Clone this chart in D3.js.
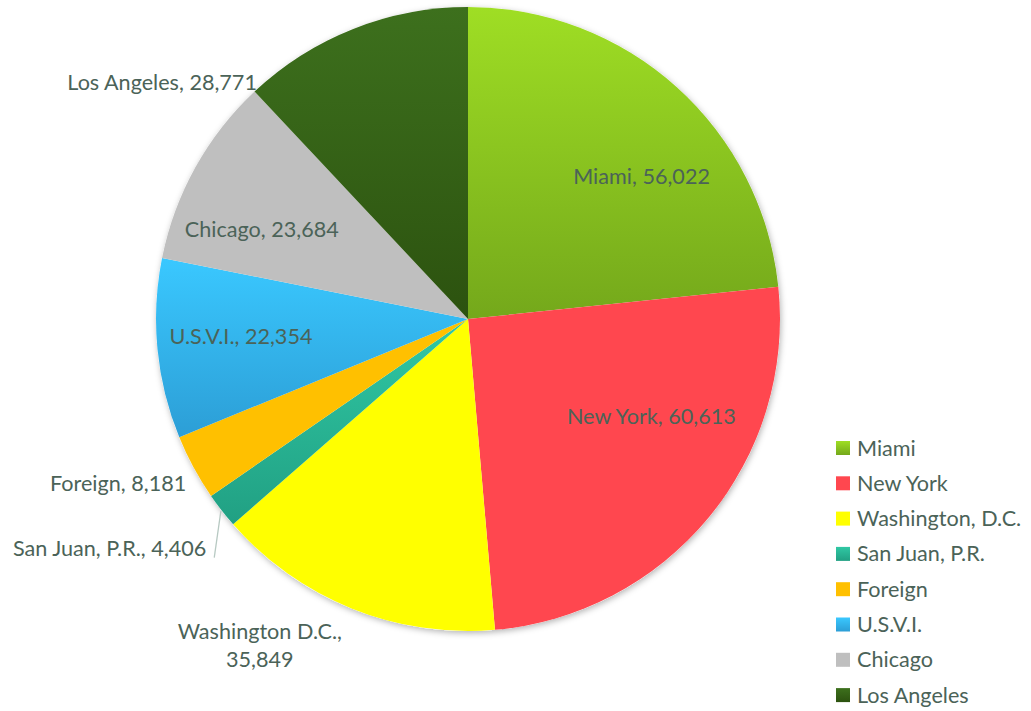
<!DOCTYPE html>
<html><head><meta charset="utf-8">
<script src="https://cdn.jsdelivr.net/npm/d3@7"></script>
<style>
html,body{margin:0;padding:0;background:#fff;}
svg{display:block;font-family:Lato, "Open Sans", sans-serif;}
</style></head>
<body>
<svg id="chart" width="1031" height="711"></svg>
<script>
const categories = ["Miami","New York","Washington, D.C.","San Juan, P.R.","Foreign","U.S.V.I.","Chicago","Los Angeles"];
const values = [56022,60613,35849,4406,8181,22354,23684,28771];
const labelTexts = [["Miami, 56,022"],["New York, 60,613"],["Washington D.C.,","35,849"],["San Juan, P.R., 4,406"],["Foreign, 8,181"],["U.S.V.I., 22,354"],["Chicago, 23,684"],["Los Angeles, 28,771"]];
const colorTop = ["#9fde24","#ff474f","#ffff00","#30c8a4","#ffc000","#3ac8ff","#bfbfbf","#3d701d"];
const colorBottom = ["#74a81b","#ff474f","#ffff00","#21a083","#ffc000","#2c9ed6","#bfbfbf","#2c520f"];

// label layout: angle (deg, clockwise from 12 o'clock), radius factor, text anchor
const labelLayout = [
  {a:50.6, r:0.72, anchor:"middle"},
  {a:117.9, r:0.665, anchor:"middle"},
  {a:212.5, r:1.242, anchor:"middle"},
  {a:228.8, r:1.115, anchor:"end", leader:true},
  {a:239.8, r:1.045, anchor:"end"},
  {a:265.5, r:0.73, anchor:"middle"},
  {a:293.4, r:0.72, anchor:"middle"},
  {a:318.3, r:1.017, anchor:"end"}
];

const svg = d3.select("#chart");
const cx = 468, cy = 319, R = 312;
const textColor = "#4b6358";
const fontSize = 21.6;

const defs = svg.append("defs");
const f = defs.append("filter").attr("id","shadow").attr("x","-10%").attr("y","-10%").attr("width","120%").attr("height","120%");
f.append("feDropShadow").attr("dx",1).attr("dy",2).attr("stdDeviation",3).attr("flood-color","#000").attr("flood-opacity",0.3);

categories.forEach((c,i)=>{
  const g = defs.append("linearGradient").attr("id","grad"+i).attr("x1",0).attr("y1",0).attr("x2",0).attr("y2",1);
  g.append("stop").attr("offset","0%").attr("stop-color",colorTop[i]);
  g.append("stop").attr("offset","100%").attr("stop-color",colorBottom[i]);
});

const pie = d3.pie().sort(null).value(d=>d)(values);
const arc = d3.arc().innerRadius(0).outerRadius(R);

const gp = svg.append("g").attr("transform",`translate(${cx},${cy})`);
gp.append("circle").attr("r",R).attr("fill","#fff").attr("filter","url(#shadow)");
gp.selectAll("path.slice").data(pie).join("path")
  .attr("class","slice")
  .attr("d",arc)
  .attr("fill",(d,i)=>`url(#grad${i})`);

// labels
const rad = a => a*Math.PI/180;
pie.forEach((d,i)=>{
  const L = labelLayout[i];
  const x = Math.sin(rad(L.a))*R*L.r;
  const y = -Math.cos(rad(L.a))*R*L.r;
  const lines = labelTexts[i];
  const lh = 28;
  const t = gp.append("text")
    .attr("x",x).attr("y",y)
    .attr("text-anchor",L.anchor)
    .attr("fill",textColor)
    .attr("font-size",fontSize);
  lines.forEach((ln,j)=>{
    t.append("tspan").attr("x",x)
      .attr("dy", j===0 ? ((-(lines.length-1)/2)*lh + fontSize*0.35) : lh)
      .text(ln);
  });
  if (L.leader) {
    const mid = (d.startAngle+d.endAngle)/2;
    const p1 = [Math.sin(mid)*(R+1), -Math.cos(mid)*(R+1)];
    const bb = t.node().getBBox();
    const p2 = [bb.x+bb.width+8, bb.y+bb.height-3];
    gp.append("line").attr("x1",p1[0]).attr("y1",p1[1]).attr("x2",p2[0]).attr("y2",p2[1])
      .attr("stroke","#b7c9c2").attr("stroke-width",1.3);
  }
});

// legend
const lg = svg.append("g").attr("transform","translate(836,448)");
const rows = lg.selectAll("g").data(categories).join("g")
  .attr("transform",(d,i)=>`translate(0,${i*35.3})`);
rows.append("rect").attr("x",0).attr("y",-7).attr("width",14).attr("height",14)
  .attr("fill",(d,i)=>`url(#grad${i})`);
rows.append("text").attr("x",21).attr("y",0).attr("dy","0.35em")
  .attr("fill",textColor).attr("font-size",fontSize).text(d=>d);
</script>
</body></html>
